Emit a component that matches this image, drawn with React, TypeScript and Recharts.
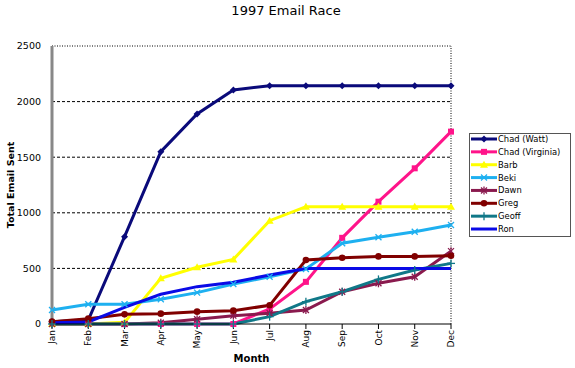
import React from 'react';
import { LineChart, Line, XAxis, YAxis, ReferenceLine, Legend, Label } from 'recharts';

const months = ['Jan', 'Feb', 'Mar', 'Apr', 'May', 'Jun', 'Jul', 'Aug', 'Sep', 'Oct', 'Nov', 'Dec'];
const yTicks = [0, 500, 1000, 1500, 2000, 2500];
const gridValues = [500, 1000, 1500, 2000];

const chadWatt = [20, 36, 785, 1550, 1889, 2104, 2143, 2143, 2143, 2143, 2143, 2143];
const chadVirginia = [0, 0, 0, 0, 0, 0, 135, 379, 775, 1100, 1400, 1730];
const barb = [0, 0, 15, 411, 510, 581, 929, 1055, 1055, 1055, 1055, 1055];
const beki = [126, 177, 177, 222, 282, 360, 425, 495, 726, 780, 830, 890];
const dawn = [0, 0, 0, 12, 42, 75, 96, 126, 290, 366, 425, 655];
const greg = [21, 48, 87, 93, 111, 120, 168, 575, 596, 608, 608, 614];
const geoff = [0, 0, 0, 0, 0, 0, 66, 201, 290, 401, 485, 545];
const ron = [12, 18, 150, 267, 336, 375, 441, 500, 500, 500, 500, 500];

const seriesNames = ['Chad (Watt)', 'Chad (Virginia)', 'Barb', 'Beki', 'Dawn', 'Greg', 'Geoff', 'Ron'];
const seriesValues = [chadWatt, chadVirginia, barb, beki, dawn, greg, geoff, ron];

const seriesStyle: Record<string, { color: string; marker: string }> = {
  'Chad (Watt)': { color: '#0a0a7a', marker: 'diamond' },
  'Chad (Virginia)': { color: '#ff148a', marker: 'square' },
  'Barb': { color: '#ffff00', marker: 'triangle' },
  'Beki': { color: '#1eb0f0', marker: 'x' },
  'Dawn': { color: '#8a1a4e', marker: 'star' },
  'Greg': { color: '#800000', marker: 'circle' },
  'Geoff': { color: '#107888', marker: 'plus' },
  'Ron': { color: '#0a0ae6', marker: 'none' },
};

const data = months.map((m, i) => {
  const row: Record<string, any> = { month: m };
  seriesNames.forEach((n, s) => {
    row[n] = seriesValues[s][i];
  });
  return row;
});

const FONT = '"DejaVu Sans", Verdana, sans-serif';

function Marker({ cx, cy, type, color }: { cx: number; cy: number; type: string; color: string }) {
  if (cx == null || cy == null) return null;
  switch (type) {
    case 'diamond':
      return <polygon points={`${cx},${cy - 3.5} ${cx + 3.5},${cy} ${cx},${cy + 3.5} ${cx - 3.5},${cy}`} fill={color} />;
    case 'square':
      return <rect x={cx - 3} y={cy - 3} width={6} height={6} fill={color} />;
    case 'triangle':
      return <polygon points={`${cx},${cy - 4} ${cx + 4},${cy + 3} ${cx - 4},${cy + 3}`} fill={color} />;
    case 'x':
      return (
        <g stroke={color} strokeWidth={1.3}>
          <line x1={cx - 3} y1={cy - 3} x2={cx + 3} y2={cy + 3} />
          <line x1={cx - 3} y1={cy + 3} x2={cx + 3} y2={cy - 3} />
        </g>
      );
    case 'star':
      return (
        <g stroke={color} strokeWidth={1.3}>
          <line x1={cx - 3} y1={cy - 3} x2={cx + 3} y2={cy + 3} />
          <line x1={cx - 3} y1={cy + 3} x2={cx + 3} y2={cy - 3} />
          <line x1={cx} y1={cy - 4} x2={cx} y2={cy + 4} />
        </g>
      );
    case 'circle':
      return <circle cx={cx} cy={cy} r={3.3} fill={color} />;
    case 'plus':
      return (
        <g stroke={color} strokeWidth={1.3}>
          <line x1={cx - 4} y1={cy} x2={cx + 4} y2={cy} />
          <line x1={cx} y1={cy - 4} x2={cx} y2={cy + 4} />
        </g>
      );
    default:
      return null;
  }
}

const MonthTick = (props: any) => {
  const { x, y, payload } = props;
  return (
    <g transform={`translate(${x},${y})`}>
      <text transform="rotate(-90)" textAnchor="end" dy="0.35em" fontSize={9} fontFamily={FONT} fill="#000">
        {payload.value}
      </text>
    </g>
  );
};

const LegendBox = (props: any) => {
  const payload = (props.payload || []) as any[];
  const present = new Set(payload.map((p: any) => p.dataKey ?? p.value));
  const names = seriesNames.filter((n) => present.size === 0 || present.has(n));
  const rowH = 12.86;
  return (
    <div style={{ width: 102, height: 104, border: '1px solid #555', background: '#fff', boxSizing: 'border-box' }}>
      <svg width={100} height={102} style={{ display: 'block' }}>
        {names.map((name: string, i: number) => {
          const st = seriesStyle[name];
          const cy = 5 + i * rowH;
          return (
            <g key={name}>
              <line x1={1} x2={27} y1={cy} y2={cy} stroke={st.color} strokeWidth={3} />
              <Marker cx={14} cy={cy} type={st.marker} color={st.color} />
              <text x={28} y={cy} dy="0.35em" fontSize={8.4} fontFamily={FONT} fill="#000">
                {name}
              </text>
            </g>
          );
        })}
      </svg>
    </div>
  );
};

export default function App() {
  return (
    <div style={{ position: 'absolute', left: 0, top: 0, width: 575, height: 368, background: '#fff' }}>
      <div
        style={{
          position: 'absolute',
          left: 0,
          top: 3,
          width: 572,
          textAlign: 'center',
          fontFamily: FONT,
          fontSize: 13,
          color: '#000',
        }}
      >
        1997 Email Race
      </div>
      <LineChart width={575} height={368} data={data} margin={{ top: 46, right: 124, bottom: 0, left: 0 }}>
        {gridValues.map((v) => (
          <ReferenceLine key={v} y={v} stroke="#000" strokeDasharray="3 2" />
        ))}
        <ReferenceLine y={2500} stroke="#000" strokeDasharray="1 1.5" />
        <ReferenceLine x="Dec" stroke="#000" strokeDasharray="1 1.5" />
        <XAxis
          dataKey="month"
          height={44}
          interval={0}
          stroke="#000"
          tickSize={5}
          tickMargin={1}
          tick={<MonthTick />}
          padding={{ left: 0, right: 0 }}
        >
          <Label value="Month" position="insideBottom" offset={6} fontSize={10} fontWeight="bold" fontFamily={FONT} fill="#000" />
        </XAxis>
        <YAxis
          width={52}
          domain={[0, 2500]}
          ticks={yTicks}
          interval={0}
          tickLine={false}
          axisLine={{ stroke: '#888', strokeWidth: 3 }}
          tick={{ fontSize: 9.5, fontFamily: FONT, fill: '#000' }}
          tickMargin={5}
        >
          <Label
            content={(p: any) => {
              const vb = p.viewBox || {};
              const cx = 11;
              const cy = (vb.y ?? 46) + (vb.height ?? 278) / 2;
              return (
                <text
                  x={cx}
                  y={cy}
                  transform={`rotate(-90, ${cx}, ${cy})`}
                  textAnchor="middle"
                  dy="0.35em"
                  fontSize={9.5}
                  fontWeight="bold"
                  fontFamily={FONT}
                  fill="#000"
                >
                  Total Email Sent
                </text>
              );
            }}
          />
        </YAxis>
        <Legend
          layout="horizontal"
          align="center"
          verticalAlign="middle"
          content={<LegendBox />}
          wrapperStyle={{ position: 'absolute', left: 469, top: 133, width: 102, height: 104 }}
        />
        {seriesNames.map((n) => {
          const st = seriesStyle[n];
          return (
            <Line
              key={n}
              dataKey={n}
              name={n}
              type="linear"
              stroke={st.color}
              strokeWidth={3}
              isAnimationActive={false}
              activeDot={false}
              dot={(p: any) => <Marker key={`${n}-${p.index}`} cx={p.cx} cy={p.cy} type={st.marker} color={st.color} />}
            />
          );
        })}
      </LineChart>
    </div>
  );
}
